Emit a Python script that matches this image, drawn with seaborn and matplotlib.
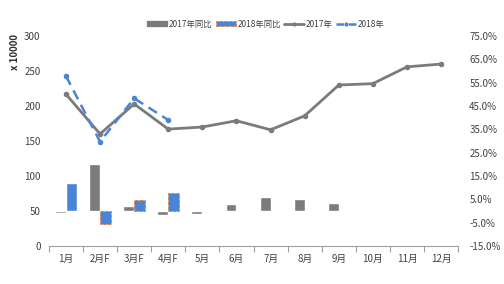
import numpy as np
import pandas as pd
import matplotlib
matplotlib.use("Agg")
import matplotlib.pyplot as plt
import seaborn as sns
from matplotlib.patches import Patch
from matplotlib.lines import Line2D

sns.set_theme(style="white")
plt.rcParams['font.family'] = ['Noto Sans CJK SC', 'DejaVu Sans']

# --- data ---
months = ["1月", "2月F", "3月F", "4月F", "5月", "6月", "7月", "8月", "9月", "10月", "11月", "12月"]
sales_2017 = [217, 160, 203, 167, 170, 179, 166, 186, 230, 232, 256, 260]   # x 10000
sales_2018 = [243, 149, 211, 180]
yoy_2017 = [-0.7, 20.3, 2.0, -1.6, -1.5, 3.1, 6.1, 5.3, 3.6, -0.3, 0.4, -0.3]  # %
yoy_2018 = [11.9, -5.5, 4.9, 7.9]

GRAY = "#7b7b7b"
BLUE = "#4a84d6"
ORANGE = "#ed7d31"
TXT = "#404040"

bars = pd.DataFrame({
    "month": months * 2,
    "series": ["2017年同比"] * 12 + ["2018年同比"] * 12,
    "yoy": yoy_2017 + yoy_2018 + [np.nan] * 8,
})

fig = plt.figure(figsize=(5.04, 2.84), dpi=100)
ax = fig.add_axes([0.097, 0.134, 0.812, 0.739])
ax2 = ax.twinx()

# bars on the right (percent) axis
sns.barplot(data=bars, x="month", y="yoy", hue="series", order=months,
            hue_order=["2017年同比", "2018年同比"], palette=[GRAY, BLUE],
            width=0.64, saturation=1, legend=False, ax=ax2)
for bar in ax2.containers[1]:
    idx = int(round(bar.get_x() + bar.get_width() / 2))
    if months[idx].endswith("F"):
        bar.set_edgecolor(ORANGE)
        bar.set_linestyle((0, (3, 2)))
        bar.set_linewidth(0.7)

# lines on the left axis
x = np.arange(len(months))
sns.lineplot(x=x, y=sales_2017, color=GRAY, lw=2, marker="o", markersize=4,
             markeredgewidth=0, ax=ax)
sns.lineplot(x=x[:len(sales_2018)], y=sales_2018, color=BLUE, lw=1.8,
             marker="o", markersize=4, markeredgewidth=0, ax=ax,
             dashes=False, linestyle=(0, (4, 2.5)))

ax.set_zorder(ax2.get_zorder() + 1)
ax.patch.set_visible(False)

ax.set_xlim(-0.5, 11.5)
ax.set_ylim(0, 300)
ax.set_yticks(range(0, 301, 50))
ax2.set_ylim(-15, 75)
ax2.set_yticks(np.arange(-15, 76, 10))
ax2.set_yticklabels([f"{v:.1f}%" for v in np.arange(-15, 76, 10)])

ax.set_xticks(x)
ax.set_xticklabels(months)
ax.set_xticks(np.arange(-0.5, 12, 1), minor=True)
ax2.set_xlabel("")
ax2.set_ylabel("")
ax.set_xlabel("")
ax.set_ylabel("")

for a in (ax, ax2):
    for s in ("top", "left", "right", "bottom"):
        a.spines[s].set_visible(False)
ax.spines["bottom"].set_visible(True)
ax.spines["bottom"].set_color("#a0a0a0")
ax.spines["bottom"].set_linewidth(0.8)

ax.tick_params(axis="x", which="major", length=0, labelsize=7, colors=TXT, pad=6)
ax.tick_params(axis="x", which="minor", length=4, width=0.8, color="#a0a0a0", bottom=True)
ax.tick_params(axis="y", length=0, labelsize=7, colors=TXT, pad=6)
ax2.tick_params(axis="y", length=0, labelsize=7, colors=TXT, pad=8)
ax2.tick_params(axis="x", length=0, labelbottom=False)

fig.text(15 / 504, 1 - 52 / 284, "x 10000", rotation=90, fontsize=7,
         fontweight="bold", color="#303030", ha="center", va="center")

handles = [
    Patch(facecolor=GRAY, edgecolor=GRAY),
    Patch(facecolor=BLUE, edgecolor=ORANGE, linestyle=(0, (3, 2)), linewidth=0.7),
    Line2D([], [], color=GRAY, lw=2, marker="o", markersize=3, markeredgewidth=0),
    Line2D([], [], color=BLUE, lw=1.8, marker="o", markersize=3, markeredgewidth=0,
           linestyle=(0, (3, 2))),
]
labels = ["2017年同比", "2018年同比", "2017年", "2018年"]
fig.legend(handles, labels, loc="center", bbox_to_anchor=(266 / 504, 1 - 24 / 284),
           ncol=4, frameon=False, fontsize=6, handlelength=2.4, handletextpad=0.2,
           columnspacing=0.4, labelcolor=TXT, handleheight=0.5)

fig.savefig("out.png", dpi=100)
